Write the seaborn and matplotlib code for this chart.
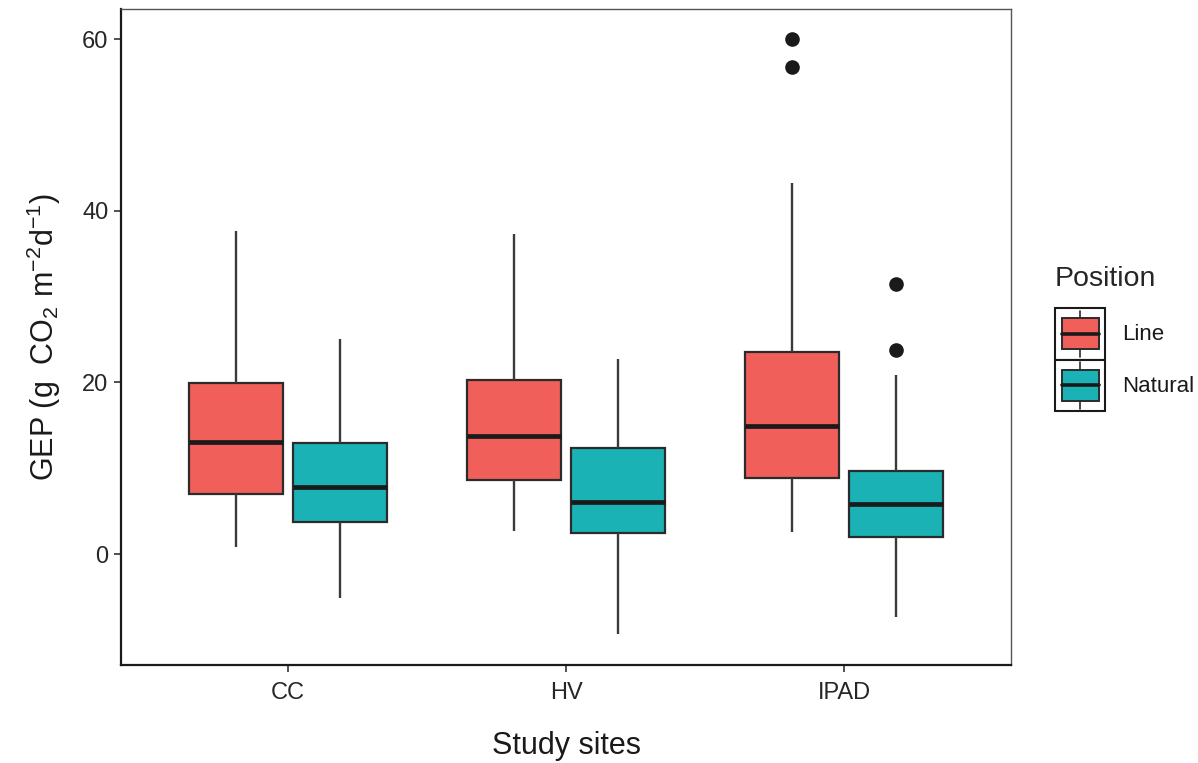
import numpy as np
import pandas as pd
import matplotlib
matplotlib.use("Agg")
import matplotlib.pyplot as plt
import seaborn as sns
from matplotlib.patches import Patch, Rectangle
from matplotlib.lines import Line2D
from matplotlib.legend_handler import HandlerBase

# ---------------- data ----------------
sites = ["CC", "HV", "IPAD"]
positions = ["Line", "Natural"]

whisker_low_line = [0.8, 2.7, 2.6]
q1_line = [7.0, 8.6, 8.9]
median_line = [13.1, 13.8, 14.9]
q3_line = [19.9, 20.3, 23.5]
whisker_high_line = [37.6, 37.3, 43.2]
outliers_line = [[], [], [56.8, 60.0]]

whisker_low_nat = [-5.1, -9.3, -7.3]
q1_nat = [3.7, 2.4, 2.0]
median_nat = [7.8, 6.1, 5.8]
q3_nat = [12.9, 12.4, 9.7]
whisker_high_nat = [25.1, 22.7, 20.9]
outliers_nat = [[], [], [23.8, 31.5]]

y_ticks = [0, 20, 40, 60]
colors = ["#F15F5A", "#1BB2B5"]

# Build observations that reproduce the summary statistics exactly
rows = []
stats = {
    "Line": (whisker_low_line, q1_line, median_line, q3_line, whisker_high_line, outliers_line),
    "Natural": (whisker_low_nat, q1_nat, median_nat, q3_nat, whisker_high_nat, outliers_nat),
}
for pos in positions:
    lo, q1, md, q3, hi, outs = stats[pos]
    for i, s in enumerate(sites):
        vals = [lo[i]] + [q1[i]] * 20 + [md[i]] * 20 + [q3[i]] * 20 + [hi[i]] + list(outs[i])
        for v in vals:
            rows.append({"site": s, "position": pos, "value": v})
df = pd.DataFrame(rows)

# ---------------- figure ----------------
sns.set_theme(style="white")
plt.rcParams["font.family"] = ["Liberation Sans", "DejaVu Sans"]
plt.rcParams["mathtext.default"] = "regular"

fig = plt.figure(figsize=(11.98, 7.63), dpi=100)
ax = fig.add_axes([121 / 1198, 1 - 665 / 763, (1011 - 121) / 1198, (665 - 9) / 763])

line_col = "#2b2b2b"
sns.boxplot(
    data=df, x="site", y="value", hue="position", order=sites, hue_order=positions,
    palette=colors, saturation=1, width=0.75, gap=0.1, showcaps=False, legend=False, ax=ax,
    linewidth=1.5, linecolor=line_col,
    boxprops=dict(edgecolor=line_col, linewidth=1.6),
    whiskerprops=dict(color="#3a3a3a", linewidth=1.7),
    medianprops=dict(color="#1a1a1a", linewidth=3.4),
    flierprops=dict(marker="o", markersize=9.5, markerfacecolor="#1a1a1a",
                    markeredgecolor="#1a1a1a"),
)

ax.set_xlim(-0.6, 2.6)
ax.set_ylim(-12.93, 63.5)
ax.set_yticks(y_ticks)
ax.set_yticklabels([str(t) for t in y_ticks])

ax.tick_params(axis="both", which="both", direction="out", length=5, width=1.2,
               color="#333333", labelsize=17, labelcolor="#262626", left=True, bottom=True)
ax.tick_params(axis="x", pad=7)
ax.tick_params(axis="y", pad=4)

for side in ["left", "bottom"]:
    ax.spines[side].set_color("#1a1a1a")
    ax.spines[side].set_linewidth(1.6)
for side in ["top", "right"]:
    ax.spines[side].set_color("#555555")
    ax.spines[side].set_linewidth(1.0)

ax.set_xlabel("Study sites", fontsize=22, color="#1a1a1a", labelpad=20)
ax.set_ylabel("GEP (g  CO$_2$ m$^{-2}$d$^{-1}$)", fontsize=22, color="#1a1a1a", labelpad=14)


# ---------------- legend with ggplot-like box keys ----------------
class BoxKey(HandlerBase):
    def create_artists(self, legend, orig_handle, xdescent, ydescent, width, height,
                       fontsize, trans):
        x0, y0 = -xdescent, -ydescent
        border = Rectangle((x0, y0), width, height, facecolor="white",
                           edgecolor="#1a1a1a", linewidth=1.5, transform=trans)
        cx = x0 + width / 2
        bw = width * 0.74
        bb, bt = y0 + height * 0.2, y0 + height * 0.8
        box = Rectangle((cx - bw / 2, bb), bw, bt - bb,
                        facecolor=orig_handle.get_facecolor(), edgecolor=line_col,
                        linewidth=1.4, transform=trans)
        wt = Line2D([cx, cx], [bt, y0 + height * 0.95], color=line_col, linewidth=1.2,
                    transform=trans)
        wb = Line2D([cx, cx], [y0 + height * 0.05, bb], color=line_col, linewidth=1.2,
                    transform=trans)
        med = Line2D([cx - bw / 2, cx + bw / 2], [y0 + height / 2] * 2, color="#1a1a1a",
                     linewidth=2.6, transform=trans)
        return [border, wt, wb, box, med]


handles = [Patch(facecolor=c, label=l) for c, l in zip(colors, positions)]
leg = fig.legend(
    handles=handles, labels=positions, title="Position",
    handler_map={Patch: BoxKey()},
    loc="upper left", bbox_to_anchor=(1055 / 1198, 1 - 266 / 763),
    frameon=False, fontsize=16, title_fontsize=20.5,
    handlelength=2.25, handleheight=3.2, labelspacing=0.0, handletextpad=0.75,
    borderpad=0.0, borderaxespad=0.0, alignment="left",
)
leg._legend_box.sep = 11.5
for t in leg.get_texts():
    t.set_color("#1a1a1a")

fig.savefig("out.png", dpi=100)
